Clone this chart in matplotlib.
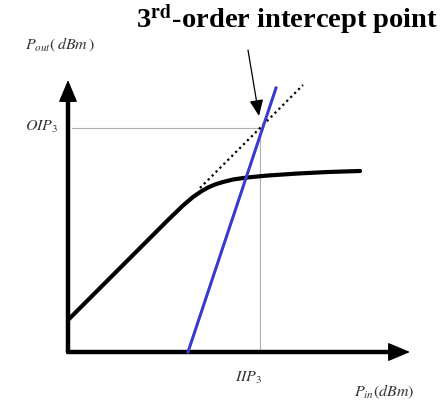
import matplotlib.pyplot as plt

plt.rcParams['mathtext.fontset'] = 'stix'
plt.rcParams['font.family'] = ['Liberation Serif', 'DejaVu Serif']

# ── data (Pin / Pout in arbitrary dB units) ─────────────────────────────
# compressed fundamental output
pin_fund = [0, 100, 115, 125, 133, 140, 147, 155, 165, 179, 200, 230, 260, 292]
pout_fund = [32, 132, 146.5, 155, 160.5, 164.5, 167.5, 170, 172.5, 174.5,
             176.5, 178.5, 180, 181]

# linear extrapolation of the fundamental (slope 1)
pin_ext = [132, 235]
pout_ext = [164, 267]

# third-order product (slope 3)
pin_im3 = [120, 208]
pout_im3 = [0, 264]

IIP3 = 192
OIP3 = 224

fig = plt.figure(figsize=(4.41, 4.01), dpi=100)
ax = fig.add_axes([0, 0, 1, 1])
ax.set_xlim(-68, 373)
ax.set_ylim(-49, 352)
ax.axis('off')

# guide lines to the intercept
ax.plot([4, IIP3], [OIP3, OIP3], color='#b0b0b0', lw=0.8, zorder=1)
ax.plot([IIP3, IIP3], [0, OIP3], color='#b0b0b0', lw=0.8, zorder=1)

# axes with arrow heads
ax.plot([0, 0], [0, 262], color='black', lw=3.2, solid_capstyle='round', zorder=3)
ax.plot([0, 330], [0, 0], color='black', lw=3.2, solid_capstyle='round', zorder=3)
head = '-|>,head_length=1.0,head_width=0.42'
ax.annotate('', xy=(0, 272), xytext=(0, 250),
            arrowprops=dict(arrowstyle=head, color='black', lw=1,
                            shrinkA=0, shrinkB=0, mutation_scale=14), zorder=4)
ax.annotate('', xy=(342, 0), xytext=(320, 0),
            arrowprops=dict(arrowstyle=head, color='black', lw=1,
                            shrinkA=0, shrinkB=0, mutation_scale=14), zorder=4)

# curves
ax.plot(pin_ext, pout_ext, color='black', lw=1.6, linestyle=(0, (1, 1.5)), zorder=2)
ax.plot(pin_fund, pout_fund, color='black', lw=3.0, solid_capstyle='round',
        solid_joinstyle='round', zorder=3)
ax.plot(pin_im3, pout_im3, color='#3c3ccc', lw=2.2, zorder=3)

# intercept pointer
ax.annotate('', xy=(191, 236), xytext=(180, 302),
            arrowprops=dict(arrowstyle='-|>,head_length=0.7,head_width=0.3',
                            color='black', lw=0.9, shrinkA=0, shrinkB=0,
                            mutation_scale=14), zorder=5)

# labels
ax.text(219, 332, r'3$^{\mathbf{rd}}$-order intercept point', fontsize=20.5,
        fontweight='bold', ha='center', va='center')
ax.text(-8, 307, r'$P_{out}(\,dBm\,)$', fontsize=11.5, ha='center', va='center',
        color='#333333')
ax.text(-10, 225, r'$OIP_3$', fontsize=11.5, ha='right', va='center', color='#333333')
ax.text(181, -26, r'$IIP_3$', fontsize=11.5, ha='center', va='center', color='#333333')
ax.text(316, -40, r'$P_{in}(dBm)$', fontsize=11.5, ha='center', va='center',
        color='#333333')

fig.savefig('out.png', dpi=100)
